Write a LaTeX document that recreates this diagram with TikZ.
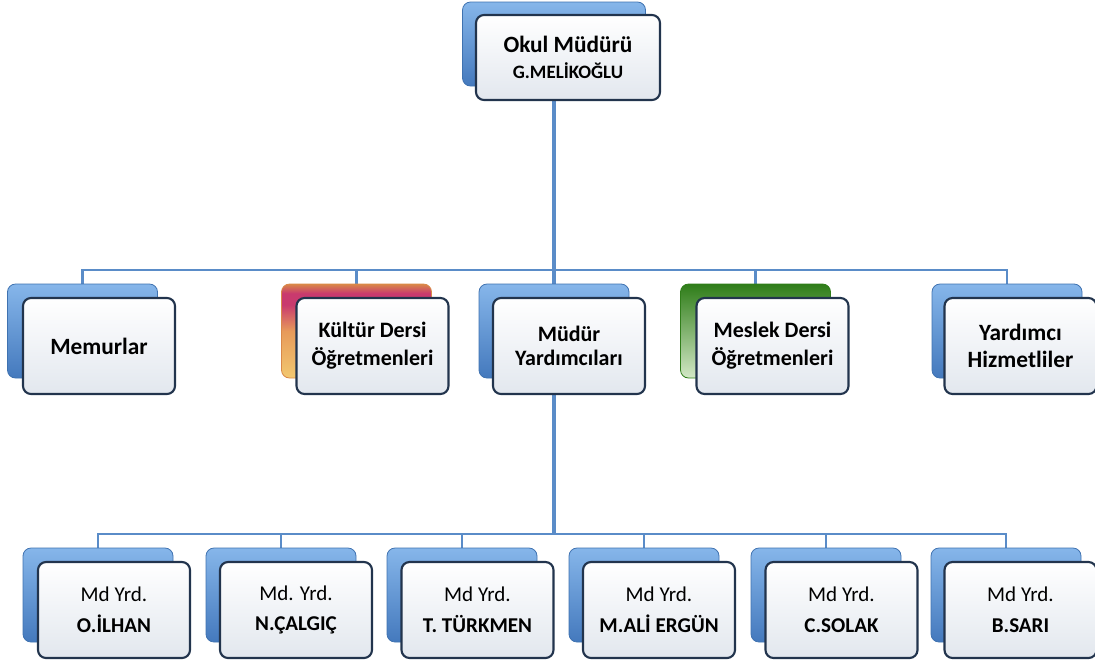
\documentclass[tikz,border=0pt]{standalone}
\usepackage{fontspec}
\setmainfont{Carlito}
\usepackage{xcolor}
\usetikzlibrary{backgrounds}

\definecolor{blueup}{HTML}{86B6EA}
\definecolor{bluedown}{HTML}{4479BD}
\definecolor{blueedge}{HTML}{3F72B0}
\definecolor{frontedge}{HTML}{22344D}
\definecolor{frontdown}{HTML}{E2E7EE}
\definecolor{linkcol}{HTML}{5A8CC8}
\definecolor{greenup}{HTML}{2F7D19}
\definecolor{greenmid}{HTML}{5AA33D}
\definecolor{greendown}{HTML}{D3E8C6}
\definecolor{kulA}{HTML}{D98848}
\definecolor{kulB}{HTML}{C93A6E}
\definecolor{kulC}{HTML}{E79A5A}
\definecolor{kulD}{HTML}{F2C870}

\pgfdeclareverticalshading{kulshade}{100bp}{color(0bp)=(kulD); color(25bp)=(kulD);
  color(50bp)=(kulC); color(64bp)=(kulB); color(70bp)=(kulB); color(75bp)=(kulA); color(100bp)=(kulA)}

\begin{document}
\begin{tikzpicture}[x=0.75pt,y=-0.75pt,
    backbox/.style={draw=blueedge, line width=0.6pt, rounded corners=6pt,
        top color=blueup, bottom color=bluedown,
        minimum width=112.5pt, minimum height=70.5pt, inner sep=0pt},
    frontbox/.style={draw=frontedge, line width=1.6pt, rounded corners=6pt,
        top color=white, bottom color=frontdown, align=center,
        minimum width=114pt, minimum height=72pt, inner sep=0pt},
    midtext/.style={font=\fontsize{16.5}{21}\selectfont\bfseries},
    lowtext/.style={font=\fontsize{15.8}{23}\selectfont},
    link/.style={draw=linkcol, line width=1.8pt},
    trunk/.style={draw=linkcol, line width=3pt}]

    \useasboundingbox (0,0) rectangle (1095,665);

    \coordinate (bus1) at (554,270);
    \coordinate (bus2) at (554,534);

    % top
    \node[backbox, minimum width=137.25pt, minimum height=63pt] (okulB) at (554,44) {};
    \node[frontbox, minimum width=138pt, minimum height=63.75pt,
        font=\fontsize{17.5}{21}\selectfont\bfseries] (okulF) at (568,57.5)
        {Okul Müdürü\\[-1pt]{\fontsize{14.2}{16}\selectfont G.MELİKOĞLU}};

    % middle row
    \node[backbox] (memB) at (82.5,331) {};
    \node[frontbox, font=\fontsize{17.5}{21}\selectfont\bfseries] (memF) at (99,346) {Memurlar};

    \node[backbox, draw=kulA, shading=kulshade] (kulB) at (356.5,331) {};
    \node[frontbox, midtext] (kulF) at (372.5,346) {Kültür Dersi\\Öğretmenleri};

    \node[backbox] (mudB) at (554,331) {};
    \node[frontbox, font=\fontsize{16.5}{17.5}\selectfont\bfseries] (mudF) at (569,346) {Müdür\\Yardımcıları};

    \node[backbox, draw=greenup, top color=greenup, middle color=greenmid,
        bottom color=greendown] (mesB) at (755.5,331) {};
    \node[frontbox, midtext] (mesF) at (772.5,346) {Meslek Dersi\\Öğretmenleri};

    \node[backbox] (yrdB) at (1007,331) {};
    \node[frontbox, font=\fontsize{17.5}{20.5}\selectfont\bfseries] (yrdF) at (1020.5,346) {Yardımcı\\Hizmetliler};

    % bottom row
    \node[backbox] (ilhanB) at (98,595) {};
    \node[frontbox, lowtext] (ilhanF) at (114,610) {Md Yrd.\\\textbf{O.İLHAN}};

    \node[backbox] (calgicB) at (281,595) {};
    \node[frontbox, lowtext] (calgicF) at (296,610) {Md. Yrd.\\\textbf{N.ÇALGIÇ}};

    \node[backbox] (turkmenB) at (462,595) {};
    \node[frontbox, lowtext] (turkmenF) at (477.5,610) {Md Yrd.\\\textbf{T. TÜRKMEN}};

    \node[backbox] (ergunB) at (644,595) {};
    \node[frontbox, lowtext] (ergunF) at (659,610) {Md Yrd.\\\textbf{M.ALİ ERGÜN}};

    \node[backbox] (solakB) at (826,595) {};
    \node[frontbox, lowtext] (solakF) at (841.5,610) {Md Yrd.\\\textbf{C.SOLAK}};

    \node[backbox] (sariB) at (1006,595) {};
    \node[frontbox, lowtext] (sariF) at (1020.5,610) {Md Yrd.\\\textbf{B.SARI}};

    % lines
    \begin{scope}[on background layer]
        \draw[trunk] (okulB.center) -- (mudB.center);
        \draw[trunk] (mudB.center) -- (bus2);
        \draw[link] (memB.north) |- (bus1) -| (yrdB.north);
        \draw[link] (bus1 -| kulB.north) -- (kulB.north);
        \draw[link] (bus1 -| mesB.north) -- (mesB.north);
        \draw[link] (ilhanB.north) |- (bus2) -| (sariB.north);
        \draw[link] (bus2 -| calgicB.north) -- (calgicB.north);
        \draw[link] (bus2 -| turkmenB.north) -- (turkmenB.north);
        \draw[link] (bus2 -| ergunB.north) -- (ergunB.north);
        \draw[link] (bus2 -| solakB.north) -- (solakB.north);
    \end{scope}

\end{tikzpicture}
\end{document}
